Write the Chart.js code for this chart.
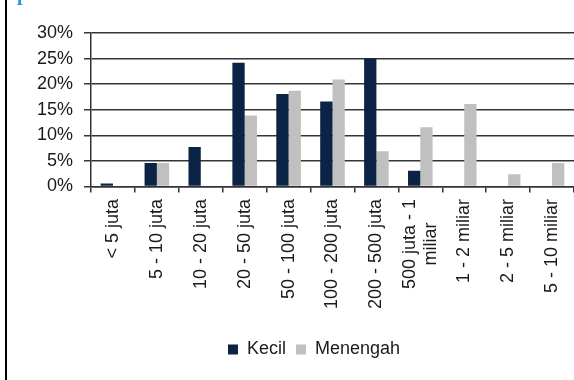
<!DOCTYPE html>
<html><head><meta charset="utf-8">
<script src="https://cdn.jsdelivr.net/npm/chart.js@4.4.0/dist/chart.umd.min.js"></script>
<style>
html,body{margin:0;padding:0;background:#fff;}
#wrap{position:relative;width:574px;height:380px;overflow:hidden;background:#fff;}
#bar{position:absolute;left:5px;top:0;width:2px;height:380px;background:#000;}
#ttl{position:absolute;left:17px;top:-17px;font:bold 20px "Liberation Serif",serif;line-height:20px;color:#1e9bd7;}
canvas{position:absolute;left:0;top:0;}
</style></head><body>
<div id="wrap"><canvas id="c" width="574" height="380"></canvas><div id="bar"></div><div id="ttl">p</div></div>
<script>
const categories = ['< 5 juta', '5 - 10 juta', '10 - 20 juta', '20 - 50 juta', '50 - 100 juta',
  '100 - 200 juta', '200 - 500 juta', ['500 juta - 1', 'miliar'], '1 - 2 miliar', '2 - 5 miliar', '5 - 10 miliar'];
const kecil = [0.6, 4.6, 7.7, 24.2, 18.1, 16.6, 25.0, 3.1, 0, 0, 0];
const menengah = [0, 4.6, 0, 13.9, 18.7, 20.9, 6.9, 11.6, 16.1, 2.4, 4.6];
const yTicks = [0, 5, 10, 15, 20, 25, 30];
const seriesNames = ['Kecil', 'Menengah'];

const FONT = '"Liberation Sans", Arial, sans-serif';
const TEXT = '#1a1a1a';

const xLabelPlugin = {
  id: 'xLabels',
  afterLayout(chart) {
    // legend in the reference sits a little right of canvas centre
    if (chart.legend) { chart.legend.left += 27; chart.legend.right += 27; }
  },
  afterDraw(chart) {
    const xs = chart.scales.x, ctx = chart.ctx;
    ctx.save();
    ctx.font = '18px ' + FONT;
    ctx.fillStyle = TEXT;
    ctx.textBaseline = 'middle';
    ctx.textAlign = 'right';
    const top = xs.top + 12.5;
    const lh = 21.5;
    categories.forEach((lab, i) => {
      const lines = Array.isArray(lab) ? lab : [lab];
      const x = xs.getPixelForTick(i);
      const widths = lines.map(l => ctx.measureText(l).width);
      const maxW = Math.max(...widths);
      ctx.save();
      ctx.translate(x, top);
      ctx.rotate(-Math.PI / 2);
      lines.forEach((l, j) => {
        ctx.fillText(l, -(maxW - widths[j]) / 2, (j - (lines.length - 1) / 2) * lh);
      });
      ctx.restore();
    });
    ctx.restore();
  }
};

new Chart(document.getElementById('c'), {
  type: 'bar',
  data: {
    labels: categories,
    datasets: [
      { label: seriesNames[0], data: kecil, backgroundColor: '#0b2344', borderWidth: 0,
        barPercentage: 1, categoryPercentage: 0.56 },
      { label: seriesNames[1], data: menengah, backgroundColor: '#c0c0c0', borderWidth: 0,
        barPercentage: 1, categoryPercentage: 0.56 }
    ]
  },
  options: {
    responsive: false,
    devicePixelRatio: 1,
    animation: false,
    events: [],
    layout: { padding: { top: 33, left: 0, right: 0, bottom: 11.5 } },
    plugins: {
      tooltip: { enabled: false },
      legend: {
        position: 'bottom',
        labels: { boxWidth: 10, boxHeight: 10, padding: 10, color: TEXT, font: { size: 18, family: FONT } }
      }
    },
    scales: {
      x: {
        grid: { drawOnChartArea: false, drawTicks: true, tickLength: 6, color: '#333', lineWidth: 1.5, offset: true },
        border: { display: true, color: '#333', width: 1.5 },
        ticks: { display: false },
        afterFit(s) { s.height = 144; }
      },
      y: {
        min: 0, max: 30,
        afterBuildTicks(s) { s.ticks = yTicks.map(v => ({ value: v })); },
        ticks: { callback: v => v + '%', color: TEXT, padding: 11, font: { size: 18, family: FONT } },
        grid: { color: '#353535', lineWidth: 1.5, tickLength: 7, drawTicks: true },
        border: { display: true, color: '#333', width: 1.5 },
        afterFit(s) { s.width = 91; }
      }
    }
  },
  plugins: [xLabelPlugin]
});
</script>
</body></html>
